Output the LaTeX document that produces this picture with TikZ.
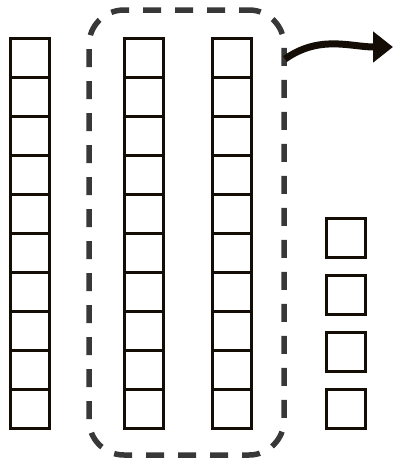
\documentclass[tikz,border=0pt]{standalone}
\usetikzlibrary{arrows.meta}
\begin{document}
\begin{tikzpicture}[x=1pt,y=-1pt,
  unitsq/.style={draw=black!90!brown, line width=3pt, minimum width=39pt, minimum height=39pt, inner sep=0pt, outer sep=0pt},
  groupbox/.style={draw=black!78, line width=5.5pt, dash pattern=on 18pt off 14pt, dash phase=8pt, rounded corners=35pt, minimum width=195pt, minimum height=445pt, inner sep=0pt},
  movearrow/.style={draw=black!90!brown, line width=7pt, -{Triangle[length=20pt,width=30pt]}}
]
\path[use as bounding box] (0,0) rectangle (393,464);
\fill[white] (0,0) rectangle (393,464);
% dashed group
\node[groupbox] (grp) at (186.5,232.5) {};
% three columns of ten
\foreach \c/\x in {a/29.5, b/144, c/231.5}{
  \foreach \k in {0,...,9}{
    \node[unitsq] (\c\k) at (\x,{57.5+39*\k}) {};
  }
}
% single units
\foreach \k/\y in {1/237.5, 2/294.5, 3/351.5, 4/408.5}{
  \node[unitsq] (u\k) at (345.5,\y) {};
}
% arrow
\coordinate (astart) at (285,59);
\coordinate (aend) at (393,47);
\draw[movearrow] (astart) to[out=35,in=180] (aend);
\end{tikzpicture}
\end{document}
